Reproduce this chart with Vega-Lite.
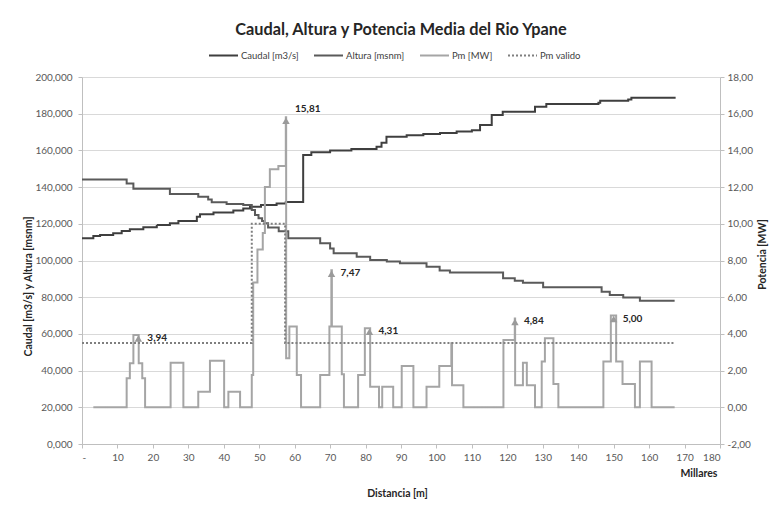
{
  "$schema": "https://vega.github.io/schema/vega-lite/v6.json",
  "width": 638,
  "height": 367,
  "autosize": {"type": "none"},
  "padding": {"left": 82, "top": 77, "right": 55, "bottom": 67},
  "background": "white",
  "title": {"text": "Caudal, Altura y Potencia Media del Rio Ypane", "font": "Lato", "fontSize": 16.3, "fontWeight": "bold", "color": "#262626", "anchor": "middle", "frame": "group", "offset": 2},
  "config": {
    "view": {"stroke": null},
    "font": "Lato",
    "axis": {"labelFont": "Lato", "titleFont": "Lato", "labelColor": "#595959", "labelFontSize": 10, "titleFontSize": 10.5, "titleFontWeight": "bold", "titleColor": "#262626", "domainColor": "#bfbfbf", "tickColor": "#bfbfbf", "gridColor": "#d9d9d9", "tickSize": 4, "labelOverlap": false},
    "legend": {"labelFont": "Lato", "labelFontSize": 9.5, "labelColor": "#404040"}
  },
  "datasets": {
    "izq": [
      {"serie": "Caudal [m3/s]", "km": 0, "v": 112.1}, {"serie": "Caudal [m3/s]", "km": 3.2, "v": 113.4}, {"serie": "Caudal [m3/s]", "km": 5.1, "v": 113.9}, {"serie": "Caudal [m3/s]", "km": 8.8, "v": 114.8}, {"serie": "Caudal [m3/s]", "km": 11.2, "v": 116.1}, {"serie": "Caudal [m3/s]", "km": 13.5, "v": 117.0}, {"serie": "Caudal [m3/s]", "km": 17.3, "v": 118.1}, {"serie": "Caudal [m3/s]", "km": 21.1, "v": 119.3}, {"serie": "Caudal [m3/s]", "km": 24.8, "v": 120.3}, {"serie": "Caudal [m3/s]", "km": 27.2, "v": 121.5}, {"serie": "Caudal [m3/s]", "km": 32.4, "v": 123.9}, {"serie": "Caudal [m3/s]", "km": 33.3, "v": 125.2}, {"serie": "Caudal [m3/s]", "km": 37.1, "v": 126.1}, {"serie": "Caudal [m3/s]", "km": 42.7, "v": 127.2}, {"serie": "Caudal [m3/s]", "km": 45.5, "v": 128.4}, {"serie": "Caudal [m3/s]", "km": 47.4, "v": 129.3}, {"serie": "Caudal [m3/s]", "km": 50.5, "v": 130.3}, {"serie": "Caudal [m3/s]", "km": 54.9, "v": 131.0}, {"serie": "Caudal [m3/s]", "km": 57.5, "v": 131.9}, {"serie": "Caudal [m3/s]", "km": 62.4, "v": 157.5}, {"serie": "Caudal [m3/s]", "km": 64.7, "v": 159.0}, {"serie": "Caudal [m3/s]", "km": 70, "v": 159.9}, {"serie": "Caudal [m3/s]", "km": 76, "v": 160.8}, {"serie": "Caudal [m3/s]", "km": 83.1, "v": 162.0}, {"serie": "Caudal [m3/s]", "km": 84.5, "v": 164.2}, {"serie": "Caudal [m3/s]", "km": 85.9, "v": 167.5}, {"serie": "Caudal [m3/s]", "km": 91.6, "v": 168.2}, {"serie": "Caudal [m3/s]", "km": 96.3, "v": 169.0}, {"serie": "Caudal [m3/s]", "km": 101, "v": 169.5}, {"serie": "Caudal [m3/s]", "km": 105.7, "v": 170.3}, {"serie": "Caudal [m3/s]", "km": 110, "v": 171.0}, {"serie": "Caudal [m3/s]", "km": 112.3, "v": 173.8}, {"serie": "Caudal [m3/s]", "km": 115.6, "v": 179.3}, {"serie": "Caudal [m3/s]", "km": 118.7, "v": 181.1}, {"serie": "Caudal [m3/s]", "km": 127.8, "v": 183.8}, {"serie": "Caudal [m3/s]", "km": 131, "v": 185.3}, {"serie": "Caudal [m3/s]", "km": 145.7, "v": 186.0}, {"serie": "Caudal [m3/s]", "km": 146.2, "v": 187.1}, {"serie": "Caudal [m3/s]", "km": 154.1, "v": 187.8}, {"serie": "Caudal [m3/s]", "km": 155, "v": 188.7}, {"serie": "Caudal [m3/s]", "km": 167.2, "v": 189.3},
      {"serie": "Altura [msnm]", "km": 0, "v": 144.2}, {"serie": "Altura [msnm]", "km": 12.6, "v": 142.0}, {"serie": "Altura [msnm]", "km": 14.5, "v": 139.1}, {"serie": "Altura [msnm]", "km": 24.8, "v": 136.2}, {"serie": "Altura [msnm]", "km": 32.8, "v": 134.8}, {"serie": "Altura [msnm]", "km": 35.6, "v": 133.3}, {"serie": "Altura [msnm]", "km": 36.6, "v": 131.7}, {"serie": "Altura [msnm]", "km": 40.8, "v": 130.8}, {"serie": "Altura [msnm]", "km": 45.5, "v": 130.2}, {"serie": "Altura [msnm]", "km": 47.9, "v": 127.5}, {"serie": "Altura [msnm]", "km": 48.8, "v": 124.8}, {"serie": "Altura [msnm]", "km": 49.8, "v": 123.0}, {"serie": "Altura [msnm]", "km": 50.8, "v": 121.5}, {"serie": "Altura [msnm]", "km": 51.5, "v": 120.3}, {"serie": "Altura [msnm]", "km": 52.5, "v": 118.0}, {"serie": "Altura [msnm]", "km": 55.5, "v": 116.0}, {"serie": "Altura [msnm]", "km": 58.2, "v": 112.1}, {"serie": "Altura [msnm]", "km": 67.2, "v": 109.4}, {"serie": "Altura [msnm]", "km": 70.0, "v": 106.6}, {"serie": "Altura [msnm]", "km": 71.0, "v": 103.9}, {"serie": "Altura [msnm]", "km": 77.5, "v": 102.1}, {"serie": "Altura [msnm]", "km": 81.3, "v": 100.3}, {"serie": "Altura [msnm]", "km": 86.0, "v": 99.4}, {"serie": "Altura [msnm]", "km": 89.7, "v": 98.5}, {"serie": "Altura [msnm]", "km": 97.2, "v": 96.6}, {"serie": "Altura [msnm]", "km": 100.9, "v": 94.5}, {"serie": "Altura [msnm]", "km": 103.8, "v": 93.4}, {"serie": "Altura [msnm]", "km": 118.8, "v": 90.3}, {"serie": "Altura [msnm]", "km": 122.1, "v": 89.0}, {"serie": "Altura [msnm]", "km": 124.4, "v": 87.9}, {"serie": "Altura [msnm]", "km": 130.1, "v": 85.4}, {"serie": "Altura [msnm]", "km": 146.6, "v": 83.0}, {"serie": "Altura [msnm]", "km": 148.9, "v": 81.2}, {"serie": "Altura [msnm]", "km": 152.7, "v": 79.9}, {"serie": "Altura [msnm]", "km": 157.4, "v": 78.1}, {"serie": "Altura [msnm]", "km": 167.2, "v": 78.1}
    ],
    "der": [
      {"serie": "Pm [MW]", "km": 3.2, "p": 0}, {"serie": "Pm [MW]", "km": 12.6, "p": 1.58}, {"serie": "Pm [MW]", "km": 13.5, "p": 2.4}, {"serie": "Pm [MW]", "km": 14.5, "p": 3.94}, {"serie": "Pm [MW]", "km": 16.0, "p": 2.4}, {"serie": "Pm [MW]", "km": 17.0, "p": 1.58}, {"serie": "Pm [MW]", "km": 17.8, "p": 0}, {"serie": "Pm [MW]", "km": 25.0, "p": 2.43}, {"serie": "Pm [MW]", "km": 28.6, "p": 0}, {"serie": "Pm [MW]", "km": 32.8, "p": 0.85}, {"serie": "Pm [MW]", "km": 36.1, "p": 2.54}, {"serie": "Pm [MW]", "km": 40.1, "p": 0}, {"serie": "Pm [MW]", "km": 41.3, "p": 0.85}, {"serie": "Pm [MW]", "km": 44.6, "p": 0}, {"serie": "Pm [MW]", "km": 47.9, "p": 1.76}, {"serie": "Pm [MW]", "km": 48.3, "p": 6.8}, {"serie": "Pm [MW]", "km": 49.5, "p": 8.6}, {"serie": "Pm [MW]", "km": 51.0, "p": 9.5}, {"serie": "Pm [MW]", "km": 51.6, "p": 12.0}, {"serie": "Pm [MW]", "km": 53.0, "p": 12.97}, {"serie": "Pm [MW]", "km": 55.4, "p": 13.15}, {"serie": "Pm [MW]", "km": 57.5, "p": 15.81}, {"serie": "Pm [MW]", "km": 57.6, "p": 2.67}, {"serie": "Pm [MW]", "km": 58.5, "p": 4.4}, {"serie": "Pm [MW]", "km": 60.6, "p": 1.76}, {"serie": "Pm [MW]", "km": 61.8, "p": 0}, {"serie": "Pm [MW]", "km": 67.2, "p": 1.76}, {"serie": "Pm [MW]", "km": 69.8, "p": 4.4}, {"serie": "Pm [MW]", "km": 70.35, "p": 7.47}, {"serie": "Pm [MW]", "km": 70.5, "p": 4.4}, {"serie": "Pm [MW]", "km": 73.3, "p": 1.8}, {"serie": "Pm [MW]", "km": 73.9, "p": 0}, {"serie": "Pm [MW]", "km": 77.9, "p": 1.76}, {"serie": "Pm [MW]", "km": 79.8, "p": 4.31}, {"serie": "Pm [MW]", "km": 81.3, "p": 1.12}, {"serie": "Pm [MW]", "km": 83.8, "p": 0}, {"serie": "Pm [MW]", "km": 84.7, "p": 1.12}, {"serie": "Pm [MW]", "km": 87.8, "p": 0}, {"serie": "Pm [MW]", "km": 90.2, "p": 2.25}, {"serie": "Pm [MW]", "km": 93.5, "p": 0}, {"serie": "Pm [MW]", "km": 97.2, "p": 1.12}, {"serie": "Pm [MW]", "km": 100.8, "p": 2.25}, {"serie": "Pm [MW]", "km": 104.2, "p": 3.49}, {"serie": "Pm [MW]", "km": 104.4, "p": 1.2}, {"serie": "Pm [MW]", "km": 107.6, "p": 0}, {"serie": "Pm [MW]", "km": 118.9, "p": 3.67}, {"serie": "Pm [MW]", "km": 122.1, "p": 4.84}, {"serie": "Pm [MW]", "km": 122.2, "p": 1.2}, {"serie": "Pm [MW]", "km": 124.4, "p": 2.43}, {"serie": "Pm [MW]", "km": 125.5, "p": 1.2}, {"serie": "Pm [MW]", "km": 127.8, "p": 0}, {"serie": "Pm [MW]", "km": 129.7, "p": 2.5}, {"serie": "Pm [MW]", "km": 130.6, "p": 3.76}, {"serie": "Pm [MW]", "km": 133.0, "p": 1.27}, {"serie": "Pm [MW]", "km": 134.4, "p": 0}, {"serie": "Pm [MW]", "km": 147.1, "p": 2.49}, {"serie": "Pm [MW]", "km": 149.2, "p": 5.0}, {"serie": "Pm [MW]", "km": 150.7, "p": 2.49}, {"serie": "Pm [MW]", "km": 152.5, "p": 1.27}, {"serie": "Pm [MW]", "km": 156.0, "p": 0}, {"serie": "Pm [MW]", "km": 157.4, "p": 2.49}, {"serie": "Pm [MW]", "km": 160.7, "p": 0}, {"serie": "Pm [MW]", "km": 167.2, "p": 0},
      {"serie": "Pm valido", "km": 0, "p": 3.5}, {"serie": "Pm valido", "km": 47.9, "p": 10}, {"serie": "Pm valido", "km": 57.3, "p": 3.5}, {"serie": "Pm valido", "km": 167.2, "p": 3.5}
    ],
    "picos": [
      {"km": 15.9, "p": 3.94, "etiqueta": "3,94"},
      {"km": 57.55, "p": 15.81, "etiqueta": "15,81"},
      {"km": 70.4, "p": 7.47, "etiqueta": "7,47"},
      {"km": 81.1, "p": 4.31, "etiqueta": "4,31"},
      {"km": 122.15, "p": 4.84, "etiqueta": "4,84"},
      {"km": 150.0, "p": 5.0, "etiqueta": "5,00"}
    ]
  },
  "resolve": {"scale": {"y": "independent"}, "axis": {"x": "independent"}},
  "layer": [
    {
      "data": {"name": "izq"},
      "mark": {"type": "line", "interpolate": "step-after"},
      "encoding": {
        "x": {"field": "km", "type": "quantitative", "scale": {"domain": [0, 180], "nice": false, "zero": false},
              "axis": {"orient": "bottom", "values": [0,10,20,30,40,50,60,70,80,90,100,110,120,130,140,150,160,170,180], "labelExpr": "datum.value == 0 ? '-' : datum.label", "format": "d", "grid": false, "labelPadding": 4, "labelOverlap": false, "title": "Distancia [m]", "titleX": 315, "titleY": 49, "titleAlign": "center", "titleBaseline": "middle"}},
        "y": {"field": "v", "type": "quantitative", "scale": {"domain": [0, 200], "nice": false},
              "axis": {"orient": "left", "values": [0,20,40,60,80,100,120,140,160,180,200], "labelExpr": "replace(format(datum.value, '.3f'), '.', ',')", "grid": true, "labelPadding": 6, "labelOverlap": false, "title": "Caudal [m3/s] y Altura [msnm]", "titleX": -54, "titleY": 209, "titleAlign": "center", "titleBaseline": "middle", "titleAngle": -90}},
        "color": {"field": "serie", "type": "nominal", "scale": {"domain": ["Caudal [m3/s]", "Altura [msnm]", "Pm [MW]", "Pm valido"], "range": ["#3f3f3f", "#5a5a5a", "#a5a5a5", "#7f7f7f"]},
                  "legend": {"title": null, "orient": "none", "legendX": 126, "legendY": -37, "direction": "horizontal", "symbolType": "stroke", "symbolSize": 841, "columnPadding": 11, "labelOffset": 2}},
        "strokeDash": {"field": "serie", "type": "nominal", "scale": {"domain": ["Caudal [m3/s]", "Altura [msnm]", "Pm [MW]", "Pm valido"], "range": [[1, 0], [1, 0], [1, 0], [2, 2]]},
                  "legend": {"title": null, "orient": "none", "legendX": 126, "legendY": -37, "direction": "horizontal", "symbolType": "stroke", "symbolSize": 841, "columnPadding": 11, "labelOffset": 2}},
        "strokeWidth": {"field": "serie", "type": "nominal", "scale": {"domain": ["Caudal [m3/s]", "Altura [msnm]", "Pm [MW]", "Pm valido"], "range": [2, 2, 2.5, 1.5]},
                  "legend": {"title": null, "orient": "none", "legendX": 126, "legendY": -37, "direction": "horizontal", "symbolType": "stroke", "symbolSize": 841, "columnPadding": 11, "labelOffset": 2}}
      }
    },
    {
      "layer": [
        {
          "data": {"name": "der"},
          "mark": {"type": "line", "interpolate": "step-after"},
          "encoding": {
            "x": {"field": "km", "type": "quantitative", "scale": {"domain": [0, 180], "nice": false, "zero": false},
                  "axis": {"orient": "bottom", "labels": false, "ticks": false, "domain": false, "grid": false, "title": "Millares", "titleX": 635, "titleY": 29, "titleAlign": "right", "titleBaseline": "middle"}},
            "y": {"field": "p", "type": "quantitative", "scale": {"domain": [-2, 18], "nice": false, "zero": false},
                  "axis": {"orient": "right", "values": [-2,0,2,4,6,8,10,12,14,16,18], "labelExpr": "datum.value < 0 ? '-' + replace(format(-datum.value, '.2f'), '.', ',') : replace(format(datum.value, '.2f'), '.', ',')", "grid": false, "labelPadding": 3, "labelOverlap": false, "title": "Potencia [MW]", "titleX": 42, "titleY": 177, "titleAlign": "center", "titleBaseline": "middle", "titleAngle": 270}},
            "color": {"field": "serie", "type": "nominal"},
            "strokeDash": {"field": "serie", "type": "nominal"},
            "strokeWidth": {"field": "serie", "type": "nominal"}
          }
        },
        {
          "data": {"name": "picos"},
          "mark": {"type": "point", "shape": "triangle-up", "filled": true, "size": 55, "color": "#9a9a9a", "opacity": 1, "yOffset": 3.5},
          "encoding": {
            "x": {"field": "km", "type": "quantitative",
                  "axis": {"orient": "bottom", "labels": false, "ticks": false, "domain": false, "grid": false, "title": "Millares", "titleX": 635, "titleY": 29, "titleAlign": "right", "titleBaseline": "middle"}},
            "y": {"field": "p", "type": "quantitative",
                  "axis": {"orient": "right", "values": [-2,0,2,4,6,8,10,12,14,16,18], "labelExpr": "datum.value < 0 ? '-' + replace(format(-datum.value, '.2f'), '.', ',') : replace(format(datum.value, '.2f'), '.', ',')", "grid": false, "labelPadding": 3, "labelOverlap": false, "title": "Potencia [MW]", "titleX": 42, "titleY": 177, "titleAlign": "center", "titleBaseline": "middle", "titleAngle": 270}}
          }
        },
        {
          "data": {"name": "picos"},
          "transform": [{"filter": "datum.p < 10"}],
          "mark": {"type": "text", "align": "left", "baseline": "middle", "dx": 9, "dy": 3, "font": "Lato", "fontSize": 10, "fontWeight": "bold", "color": "#262626"},
          "encoding": {
            "x": {"field": "km", "type": "quantitative",
                  "axis": {"orient": "bottom", "labels": false, "ticks": false, "domain": false, "grid": false, "title": "Millares", "titleX": 635, "titleY": 29, "titleAlign": "right", "titleBaseline": "middle"}},
            "y": {"field": "p", "type": "quantitative",
                  "axis": {"orient": "right", "values": [-2,0,2,4,6,8,10,12,14,16,18], "labelExpr": "datum.value < 0 ? '-' + replace(format(-datum.value, '.2f'), '.', ',') : replace(format(datum.value, '.2f'), '.', ',')", "grid": false, "labelPadding": 3, "labelOverlap": false, "title": "Potencia [MW]", "titleX": 42, "titleY": 177, "titleAlign": "center", "titleBaseline": "middle", "titleAngle": 270}},
            "text": {"field": "etiqueta"}
          }
        },
        {
          "data": {"name": "picos"},
          "transform": [{"filter": "datum.p >= 10"}],
          "mark": {"type": "text", "align": "left", "baseline": "middle", "dx": 9, "dy": -8, "font": "Lato", "fontSize": 10, "fontWeight": "bold", "color": "#262626"},
          "encoding": {
            "x": {"field": "km", "type": "quantitative",
                  "axis": {"orient": "bottom", "labels": false, "ticks": false, "domain": false, "grid": false, "title": "Millares", "titleX": 635, "titleY": 29, "titleAlign": "right", "titleBaseline": "middle"}},
            "y": {"field": "p", "type": "quantitative",
                  "axis": {"orient": "right", "values": [-2,0,2,4,6,8,10,12,14,16,18], "labelExpr": "datum.value < 0 ? '-' + replace(format(-datum.value, '.2f'), '.', ',') : replace(format(datum.value, '.2f'), '.', ',')", "grid": false, "labelPadding": 3, "labelOverlap": false, "title": "Potencia [MW]", "titleX": 42, "titleY": 177, "titleAlign": "center", "titleBaseline": "middle", "titleAngle": 270}},
            "text": {"field": "etiqueta"}
          }
        }
      ]
    }
  ]
}
